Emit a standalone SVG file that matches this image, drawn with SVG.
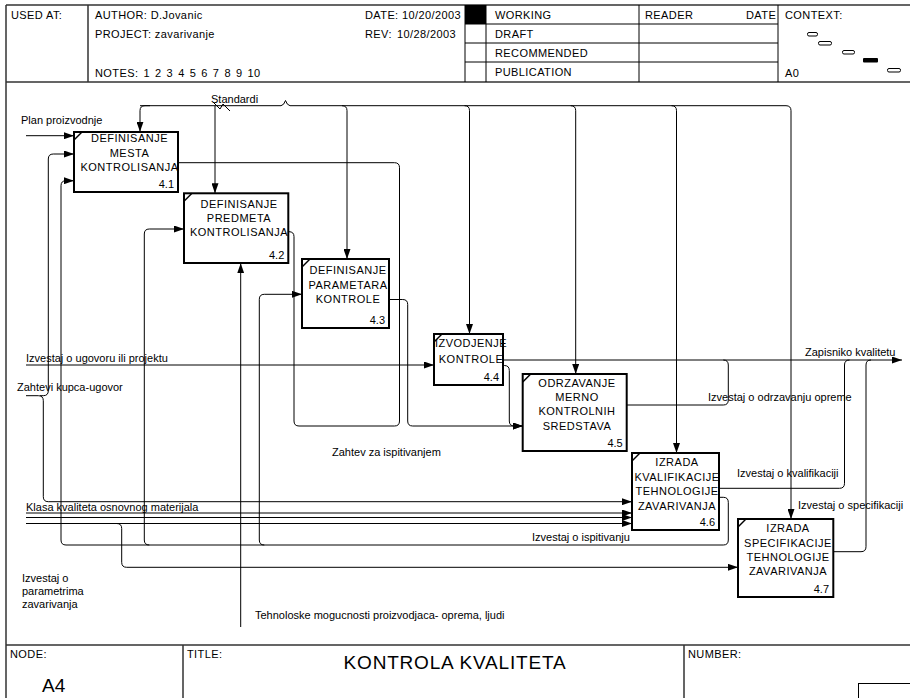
<svg xmlns="http://www.w3.org/2000/svg" width="910" height="698" viewBox="0 0 910 698">
  <style>
    .frame { fill: none; stroke: #333; stroke-width: 1.5; }
    .grid { fill: none; stroke: #000; stroke-width: 1; }
    .ln { fill: none; stroke: #000; stroke-width: 1; }
    .arr { marker-end: url(#ah); }
    .box { fill: #fff; stroke: #000; stroke-width: 2; }
    .tick { fill: none; stroke: #000; stroke-width: 1.5; }
    .nt { font-family: "Liberation Sans", Arial, sans-serif; font-size: 11px; letter-spacing: 0.5px; text-anchor: middle; fill: #000; }
    .num { font-family: "Liberation Sans", Arial, sans-serif; font-size: 11px; text-anchor: end; fill: #000; }
    .lb { font-family: "Liberation Sans", Arial, sans-serif; font-size: 11px; fill: #000; }
    .hd { font-family: "Liberation Sans", Arial, sans-serif; font-size: 11px; letter-spacing: 0.4px; fill: #000; }
    .big { font-family: "Liberation Sans", Arial, sans-serif; font-size: 19px; fill: #000; }
    .ctx { fill: #fff; stroke: #000; stroke-width: 1; }
  </style>
  <defs>
    <marker id="ah" viewBox="0 0 10 7" refX="10" refY="3.5" markerWidth="10" markerHeight="7" orient="auto" markerUnits="userSpaceOnUse">
      <path d="M0,0 L10,3.5 L0,7 z" fill="#000"/>
    </marker>
  </defs>

  <rect x="0" y="0" width="910" height="698" fill="#fff"/>

  <!-- title block: header -->
  <g id="header">
    <path class="frame" d="M6,5 H910 M6,82 H910 M6,5 V698 M88,5 V82"/>
    <path class="grid" d="M465,5 V82 M486,5 V82 M639,5 V82 M778,5 V82 M465,24 H778 M465,43 H778 M465,62 H778"/>
    <rect x="465" y="5" width="21" height="19" fill="#000"/>
    <text class="hd" x="11" y="19">USED AT:</text>
    <text class="hd" x="95" y="19">AUTHOR:  D.Jovanic</text>
    <text class="hd" x="95" y="38">PROJECT:  zavarivanje</text>
    <text class="hd" x="95" y="77" word-spacing="1.6">NOTES: 1 2 3 4 5 6 7 8 9 10</text>
    <text class="hd" x="365" y="19">DATE: 10/20/2003</text>
    <text class="hd" x="365" y="38">REV:</text>
    <text class="hd" x="397" y="38">10/28/2003</text>
    <text class="hd" x="495" y="19">WORKING</text>
    <text class="hd" x="495" y="38">DRAFT</text>
    <text class="hd" x="495" y="57">RECOMMENDED</text>
    <text class="hd" x="495" y="76">PUBLICATION</text>
    <text class="hd" x="645" y="19">READER</text>
    <text class="hd" x="746" y="19">DATE</text>
    <text class="hd" x="785" y="19">CONTEXT:</text>
    <text class="hd" x="785" y="77">A0</text>
    <rect class="ctx" x="807.5" y="32.5" width="10" height="3.5" rx="1.5"/>
    <rect class="ctx" x="818.5" y="41.5" width="13" height="3.5" rx="1.5"/>
    <rect class="ctx" x="842.5" y="50.5" width="12" height="3.5" rx="1.5"/>
    <rect x="863" y="58" width="15" height="4.5" rx="1" fill="#000"/>
    <rect class="ctx" x="887.5" y="68.5" width="13" height="3.5" rx="1.5"/>
  </g>

  <!-- title block: footer -->
  <g id="footer">
    <path class="frame" d="M6,645 H910 M183,645 V698 M684,645 V698"/>
    <rect class="grid" x="858.5" y="683.5" width="52" height="16"/>
    <text class="hd" x="10" y="658" font-size="10">NODE:</text>
    <text class="big" x="42" y="692" font-size="18">A4</text>
    <text class="hd" x="187" y="658" font-size="10">TITLE:</text>
    <text class="big" x="455" y="669" text-anchor="middle" letter-spacing="0.8">KONTROLA KVALITETA</text>
    <text class="hd" x="688" y="658" font-size="10">NUMBER:</text>
  </g>

  <!-- connectors -->
  <g id="arrows">
    <!-- Standardi (controls) -->
    <path class="ln" d="M140,105.7 H281 Q284,105.2 285.5,100.5 Q287,105.2 290,105.7 H786 Q791,105.7 791,110.7 V519" marker-end="url(#ah)"/>
    <path class="ln arr" d="M150,105.7 H145 Q140,105.7 140,110.7 V131.7"/>
    <path class="ln arr" d="M215,105.7 V193.3"/>
    <path class="ln arr" d="M342,105.7 Q347,105.7 347,110.7 V259"/>
    <path class="ln arr" d="M464.5,105.7 Q469.5,105.7 469.5,110.7 V334"/>
    <path class="ln arr" d="M570.7,105.7 Q575.7,105.7 575.7,110.7 V374"/>
    <path class="ln arr" d="M671.5,105.7 Q676.5,105.7 676.5,110.7 V453"/>
    <path class="ln" d="M213,102 L220,109 L223,104 L230,111"/>

    <!-- inputs -->
    <path class="ln arr" d="M26,135.7 H74"/>
    <path class="ln arr" d="M26,395.7 H38.3 Q43.3,395.7 43.3,400.7 V496.7 Q43.3,501.7 48.3,501.7 H632"/>
    <path class="ln arr" d="M40,395.7 H43.3 Q48.3,395.7 48.3,390.7 V159 Q48.3,154 53.3,154 H74"/>
    <path class="ln arr" d="M26,365 H434"/>
    <path class="ln arr" d="M26,513 H632"/>
    <path class="ln arr" d="M26,517.5 H632"/>
    <path class="ln arr" d="M26,523.5 H632"/>
    <path class="ln arr" d="M116.7,523.5 Q121.7,523.5 121.7,528.5 V562.3 Q121.7,567.3 126.7,567.3 H738"/>

    <!-- mechanism -->
    <path class="ln arr" d="M240.7,627 V263.3"/>

    <!-- Izvestaj o ispitivanju (feedback) -->
    <path class="ln arr" d="M719,497.3 H723.3 Q728.3,497.3 728.3,502.3 V540 Q728.3,545 723.3,545 H66 Q61,545 61,540 V185.7 Q61,180.7 66,180.7 H74"/>
    <path class="ln arr" d="M149.3,545 Q144.3,545 144.3,540 V234 Q144.3,229 149.3,229 H184"/>
    <path class="ln arr" d="M264.3,545 Q259.3,545 259.3,540 V299.3 Q259.3,294.3 264.3,294.3 H302"/>

    <!-- Zahtev za ispitivanjem -->
    <path class="ln" d="M178,162.7 H394.5 Q399.5,162.7 399.5,167.7 V421 Q399.5,426 394.5,426"/>
    <path class="ln" d="M288.3,231.7 H289 Q294,231.7 294,236.7 V421 Q294,426 299,426 H394.5"/>
    <path class="ln arr" d="M389,299.5 H402.7 Q407.7,299.5 407.7,304.5 V421 Q407.7,426 412.7,426 H522.7"/>
    <path class="ln arr" d="M503,365.5 H504.3 Q509.3,365.5 509.3,370.5 V421 Q509.3,426 514.3,426 H522.7"/>

    <!-- outputs -->
    <path class="ln arr" d="M503,360 H902"/>
    <path class="ln" d="M626.7,405 H723.3 Q728.3,405 728.3,400 V365 Q728.3,360 723.3,360"/>
    <path class="ln" d="M719,488.3 H839.5 Q844.5,488.3 844.5,483.3 V365 Q844.5,360 849.5,360"/>
    <path class="ln" d="M833.3,551.7 H861 Q866,551.7 866,546.7 V365 Q866,360 871,360"/>
  </g>

  <!-- connector labels -->
  <g id="labels">
    <text class="lb" x="211" y="103">Standardi</text>
    <text class="lb" x="21" y="124">Plan proizvodnje</text>
    <text class="lb" x="26" y="362">Izvestaj o ugovoru ili projektu</text>
    <text class="lb" x="17" y="391">Zahtevi kupca-ugovor</text>
    <text class="lb" x="332" y="456">Zahtev za ispitivanjem</text>
    <text class="lb" x="26" y="511">Klasa kvaliteta osnovnog materijala</text>
    <text class="lb" x="22" y="582">Izvestaj o</text>
    <text class="lb" x="22" y="595">parametrima</text>
    <text class="lb" x="22" y="608">zavarivanja</text>
    <text class="lb" x="255" y="619">Tehnoloske mogucnosti proizvodjaca- oprema, ljudi</text>
    <text class="lb" x="805" y="356">Zapisniko kvalitetu</text>
    <text class="lb" x="708" y="401">Izvestaj o odrzavanju opreme</text>
    <text class="lb" x="737" y="477">Izvestaj o kvalifikaciji</text>
    <text class="lb" x="798" y="509">Izvestaj o specifikaciji</text>
    <text class="lb" x="532" y="541">Izvestaj o ispitivanju</text>
  </g>

  <!-- activity boxes -->
  <g id="n41">
    <rect class="box" x="74" y="132" width="104" height="60"/>
    <path class="tick" d="M74,140 L82,132"/>
    <text class="nt"><tspan x="129.5" y="142.3">DEFINISANJE</tspan><tspan x="129.5" y="157">MESTA</tspan><tspan x="129.5" y="171">KONTROLISANJA</tspan></text>
    <text class="num" x="174" y="188">4.1</text>
  </g>
  <g id="n42">
    <rect class="box" x="184" y="193.3" width="104.3" height="69.7"/>
    <path class="tick" d="M184,201.3 L192,193.3"/>
    <text class="nt"><tspan x="239" y="208">DEFINISANJE</tspan><tspan x="239" y="222">PREDMETA</tspan><tspan x="239" y="236">KONTROLISANJA</tspan></text>
    <text class="num" x="284.3" y="259">4.2</text>
  </g>
  <g id="n43">
    <rect class="box" x="302" y="259" width="87" height="69"/>
    <path class="tick" d="M302,267 L310,259"/>
    <text class="nt"><tspan x="348" y="274">DEFINISANJE</tspan><tspan x="348" y="289">PARAMETARA</tspan><tspan x="348" y="303">KONTROLE</tspan></text>
    <text class="num" x="385" y="324">4.3</text>
  </g>
  <g id="n44">
    <rect class="box" x="434" y="334" width="69" height="51"/>
    <path class="tick" d="M434,342 L442,334"/>
    <text class="nt"><tspan x="471" y="347">IZVODJENJE</tspan><tspan x="471" y="363">KONTROLE</tspan></text>
    <text class="num" x="499" y="381">4.4</text>
  </g>
  <g id="n45">
    <rect class="box" x="522.7" y="374" width="104" height="77"/>
    <path class="tick" d="M522.7,382 L530.7,374"/>
    <text class="nt"><tspan x="577" y="387">ODRZAVANJE</tspan><tspan x="577" y="401">MERNO</tspan><tspan x="577" y="415">KONTROLNIH</tspan><tspan x="577" y="430">SREDSTAVA</tspan></text>
    <text class="num" x="622.7" y="447">4.5</text>
  </g>
  <g id="n46">
    <rect class="box" x="632" y="453" width="87" height="77"/>
    <path class="tick" d="M632,461 L640,453"/>
    <text class="nt"><tspan x="677" y="466">IZRADA</tspan><tspan x="677" y="481">KVALIFIKACIJE</tspan><tspan x="677" y="495">TEHNOLOGIJE</tspan><tspan x="677" y="510">ZAVARIVANJA</tspan></text>
    <text class="num" x="715" y="526">4.6</text>
  </g>
  <g id="n47">
    <rect class="box" x="738" y="519" width="95.3" height="78"/>
    <path class="tick" d="M738,527 L746,519"/>
    <text class="nt"><tspan x="788" y="532">IZRADA</tspan><tspan x="788" y="547">SPECIFIKACIJE</tspan><tspan x="788" y="561">TEHNOLOGIJE</tspan><tspan x="788" y="575">ZAVARIVANJA</tspan></text>
    <text class="num" x="829" y="593">4.7</text>
  </g>
</svg>
